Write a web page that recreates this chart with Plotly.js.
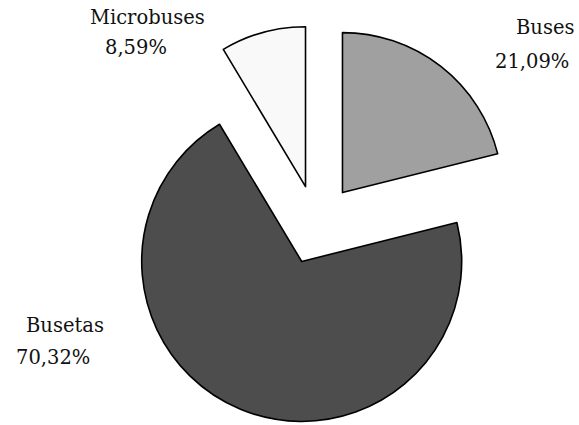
<!DOCTYPE html>
<html>
<head>
<meta charset="utf-8">
<script src="https://cdn.plot.ly/plotly-3.0.1.min.js"></script>
<style>
html,body{margin:0;padding:0;overflow:hidden;background:#fff;}
#chart{width:579px;height:452px;}
</style>
</head>
<body>
<div id="chart"></div>
<script>
// Data
var categories = ["Buses", "Busetas", "Microbuses"];
var shares = [21.09, 70.32, 8.59];

// Styling
var colors = ["#a0a0a0", "#4d4d4d", "#f9f9f9"];
var pulls = [0.265, 0.24, 0.255];
var W = 579, H = 452;
// label centres in pixels: [name line, percent line]
var labelPos = [
  [[545, 28], [532, 61]],
  [[65, 325], [53, 357]],
  [[147.5, 17], [135.5, 48]]
];

function fmt(v){ return v.toFixed(2).replace('.', ',') + '%'; }

var annotations = [];
categories.forEach(function(c, i){
  var lines = [c, fmt(shares[i])];
  lines.forEach(function(t, j){
    annotations.push({
      text: t, showarrow: false,
      xref: 'paper', yref: 'paper',
      x: labelPos[i][j][0] / W, y: 1 - labelPos[i][j][1] / H,
      xanchor: 'center', yanchor: 'middle',
      font: {family: 'DejaVu Serif, serif', size: 19.5, color: '#111'}
    });
  });
});

var trace = {
  type: 'pie',
  labels: categories,
  values: shares,
  sort: false,
  direction: 'clockwise',
  rotation: 0,
  pull: pulls,
  textinfo: 'none',
  hoverinfo: 'label+percent',
  marker: {colors: colors, line: {color: '#000', width: 1.6}},
  domain: {x: [0.1969, 0.8960], y: [0, 1]}
};

var layout = {
  width: W, height: H,
  margin: {l: 0, r: 0, t: 0, b: 0},
  showlegend: false,
  paper_bgcolor: '#fff',
  annotations: annotations
};

Plotly.newPlot('chart', [trace], layout, {displayModeBar: false, staticPlot: true});
</script>
</body>
</html>
